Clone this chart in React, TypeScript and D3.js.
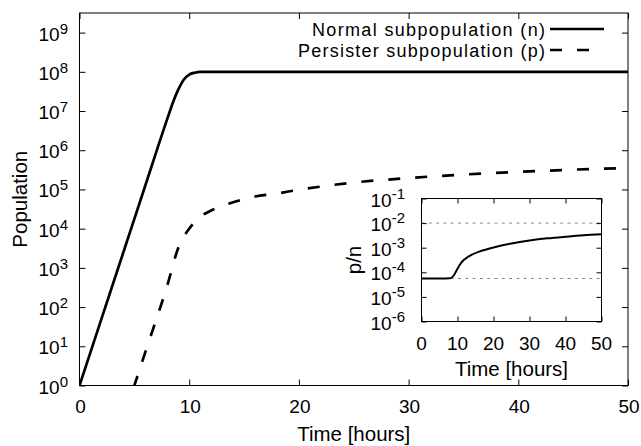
import React, { useEffect, useRef } from 'react';
import * as d3 from 'd3';

// time [hours] and population
const normalTime = [0, 2, 4, 6, 8, 8.5, 9, 9.5, 10, 10.5, 11, 12, 20, 30, 40, 50];
const normalPop = [1, 50, 2.5e3, 1.26e5, 6.3e6, 1.6e7, 3.5e7, 6.3e7, 8.5e7, 9.5e7, 1e8, 1e8, 1e8, 1e8, 1e8, 1e8];

const persisterTime = [0, 2, 4, 6, 8, 9, 10, 11, 12, 14, 16, 18, 20, 25, 30, 35, 40, 45, 50];
const persisterPop = [5.6e-5, 2.8e-3, 0.14, 7.1, 355, 3.2e3, 1.0e4, 2.0e4, 2.9e4, 4.7e4, 6.6e4, 7.9e4, 9.8e4, 1.5e5, 1.95e5, 2.4e5, 2.8e5, 3.2e5, 3.5e5];

// inset: ratio p/n
const ratioTime = [0, 5, 8, 9, 10, 11, 12, 14, 16, 18, 20, 25, 30, 35, 40, 45, 50];
const ratioValue = [5.6e-5, 5.6e-5, 5.7e-5, 7.6e-5, 1.4e-4, 2.4e-4, 3.4e-4, 5.2e-4, 6.9e-4, 8.5e-4, 1.02e-3, 1.48e-3, 1.95e-3, 2.4e-3, 2.8e-3, 3.2e-3, 3.5e-3];
const ratioRefLines = [1e-2, 5.6e-5];

const xTicks = [0, 10, 20, 30, 40, 50];
const mainExponents = [0, 1, 2, 3, 4, 5, 6, 7, 8, 9];
const insetExponents = [-6, -5, -4, -3, -2, -1];

const legendLabels = ['Normal subpopulation (n)', 'Persister subpopulation (p)'];
const legendWidths = [233, 247];

const FONT = '"Liberation Sans", Arial, Helvetica, sans-serif';
const DASH = '12,15';

const App = () => {
  const ref = useRef<SVGSVGElement>(null);

  useEffect(() => {
    const svg = d3.select(ref.current);
    svg.selectAll('*').remove();

    const m = { left: 79.5, right: 628, top: 13, bottom: 385.5 };
    const ins = { left: 421.5, right: 601.5, top: 198.5, bottom: 321.5 };

    const x = d3.scaleLinear().domain([0, 50]).range([m.left, m.right]);
    const y = d3.scaleLog().domain([1, Math.pow(10, 9.5)]).range([m.bottom, m.top]);
    const x2 = d3.scaleLinear().domain([0, 50]).range([ins.left, ins.right]);
    const y2 = d3.scaleLog().domain([1e-6, 1e-1]).range([ins.bottom, ins.top]);

    svg.append('rect').attr('width', 641).attr('height', 446).attr('fill', 'white');

    svg.append('defs').append('clipPath').attr('id', 'mainclip')
      .append('rect')
      .attr('x', m.left).attr('y', m.top)
      .attr('width', m.right - m.left).attr('height', m.bottom - m.top);

    const mainVals = mainExponents.map((e) => Math.pow(10, e));

    // ticks (inward, mirrored)
    const tickAxis = (g: any, axis: any) => {
      g.call(axis);
      g.select('.domain').remove();
      g.selectAll('.tick line').attr('stroke', '#000').attr('stroke-width', 1);
    };
    svg.append('g').attr('transform', `translate(0,${m.bottom})`)
      .call((g) => tickAxis(g, d3.axisBottom(x).tickValues(xTicks).tickSize(-6).tickFormat(() => '')));
    svg.append('g').attr('transform', `translate(0,${m.top})`)
      .call((g) => tickAxis(g, d3.axisTop(x).tickValues(xTicks).tickSize(-6).tickFormat(() => '')));
    svg.append('g').attr('transform', `translate(${m.left},0)`)
      .call((g) => tickAxis(g, d3.axisLeft(y).tickValues(mainVals).tickSize(-6).tickFormat(() => '')));
    svg.append('g').attr('transform', `translate(${m.right},0)`)
      .call((g) => tickAxis(g, d3.axisRight(y).tickValues(mainVals).tickSize(-6).tickFormat(() => '')));

    svg.append('rect')
      .attr('x', m.left).attr('y', m.top)
      .attr('width', m.right - m.left).attr('height', m.bottom - m.top)
      .attr('fill', 'none').attr('stroke', '#000').attr('stroke-width', 1);

    // tick labels
    svg.append('g').selectAll('text').data(xTicks).join('text')
      .attr('x', (d) => x(d) + 1).attr('y', 413)
      .attr('text-anchor', 'middle')
      .style('font-family', FONT).style('font-size', '19px')
      .text((d) => d);

    const yLab = svg.append('g').selectAll('text').data(mainExponents).join('text')
      .attr('x', 68).attr('y', (d) => y(Math.pow(10, d)) + 8)
      .attr('text-anchor', 'end')
      .style('font-family', FONT).style('font-size', '19px');
    yLab.append('tspan').text('10');
    yLab.append('tspan').attr('dy', -7).style('font-size', '15px').text((d) => d);

    svg.append('text')
      .attr('x', (m.left + m.right) / 2).attr('y', 441)
      .attr('text-anchor', 'middle')
      .style('font-family', FONT).style('font-size', '20.5px')
      .text('Time [hours]');

    svg.append('text')
      .attr('transform', `translate(27,${(m.top + m.bottom) / 2}) rotate(-90)`)
      .attr('text-anchor', 'middle')
      .style('font-family', FONT).style('font-size', '20.5px')
      .text('Population');

    // curves
    const line = d3.line<[number, number]>()
      .x((d) => x(d[0]))
      .y((d) => y(d[1]))
      .curve(d3.curveMonotoneX);

    const plot = svg.append('g').attr('clip-path', 'url(#mainclip)');
    plot.append('path')
      .datum(normalTime.map((t, i) => [t, normalPop[i]] as [number, number]))
      .attr('d', line)
      .attr('fill', 'none').attr('stroke', '#000').attr('stroke-width', 2.7);
    const pPath = plot.append('path')
      .datum(persisterTime.map((t, i) => [t, persisterPop[i]] as [number, number]))
      .attr('d', line)
      .attr('fill', 'none').attr('stroke', '#000').attr('stroke-width', 2.7)
      .attr('stroke-dasharray', DASH);

    // start a dash where the dashed curve enters the frame
    const node = pPath.node() as SVGPathElement;
    if (node && node.getTotalLength) {
      let lo = 0;
      let hi = node.getTotalLength();
      for (let k = 0; k < 30; k++) {
        const mid = (lo + hi) / 2;
        if (node.getPointAtLength(mid).y > m.bottom) lo = mid; else hi = mid;
      }
      pPath.attr('stroke-dashoffset', -lo + 2);
    }

    // legend
    const legend = svg.append('g');
    legendLabels.forEach((lab, i) => {
      const yy = 29 + i * 21;
      legend.append('text')
        .attr('x', 545).attr('y', yy + 6.5)
        .attr('text-anchor', 'end')
        .attr('textLength', legendWidths[i])
        .attr('lengthAdjust', 'spacing')
        .style('font-family', FONT).style('font-size', '18px')
        .text(lab);
      legend.append('line')
        .attr('x1', 550).attr('x2', 604).attr('y1', yy).attr('y2', yy)
        .attr('stroke', '#000').attr('stroke-width', 2.7)
        .attr('stroke-dasharray', i === 0 ? null : DASH);
    });

    // inset
    const inset = svg.append('g');
    inset.append('rect')
      .attr('x', ins.left).attr('y', ins.top)
      .attr('width', ins.right - ins.left).attr('height', ins.bottom - ins.top)
      .attr('fill', 'white');

    inset.selectAll('line.ref').data(ratioRefLines).join('line')
      .attr('class', 'ref')
      .attr('x1', ins.left).attr('x2', ins.right)
      .attr('y1', (d) => y2(d)).attr('y2', (d) => y2(d))
      .attr('stroke', '#888').attr('stroke-width', 1)
      .attr('stroke-dasharray', '3,4.3');

    const insetVals = insetExponents.map((e) => Math.pow(10, e));
    inset.append('g').attr('transform', `translate(0,${ins.bottom})`)
      .call((g) => tickAxis(g, d3.axisBottom(x2).tickValues(xTicks).tickSize(-5).tickFormat(() => '')));
    inset.append('g').attr('transform', `translate(0,${ins.top})`)
      .call((g) => tickAxis(g, d3.axisTop(x2).tickValues(xTicks).tickSize(-5).tickFormat(() => '')));
    inset.append('g').attr('transform', `translate(${ins.left},0)`)
      .call((g) => tickAxis(g, d3.axisLeft(y2).tickValues(insetVals).tickSize(-5).tickFormat(() => '')));
    inset.append('g').attr('transform', `translate(${ins.right},0)`)
      .call((g) => tickAxis(g, d3.axisRight(y2).tickValues(insetVals).tickSize(-5).tickFormat(() => '')));

    const line2 = d3.line<[number, number]>()
      .x((d) => x2(d[0]))
      .y((d) => y2(d[1]))
      .curve(d3.curveMonotoneX);
    inset.append('path')
      .datum(ratioTime.map((t, i) => [t, ratioValue[i]] as [number, number]))
      .attr('d', line2)
      .attr('fill', 'none').attr('stroke', '#000').attr('stroke-width', 2);

    inset.append('rect')
      .attr('x', ins.left).attr('y', ins.top)
      .attr('width', ins.right - ins.left).attr('height', ins.bottom - ins.top)
      .attr('fill', 'none').attr('stroke', '#000').attr('stroke-width', 1);

    inset.append('g').selectAll('text').data(xTicks).join('text')
      .attr('x', (d) => x2(d)).attr('y', 350)
      .attr('text-anchor', 'middle')
      .style('font-family', FONT).style('font-size', '19px')
      .text((d) => d);

    const iLab = inset.append('g').selectAll('text').data(insetExponents).join('text')
      .attr('x', 405).attr('y', (d) => y2(Math.pow(10, d)) + 8)
      .attr('text-anchor', 'end')
      .style('font-family', FONT).style('font-size', '19px');
    iLab.append('tspan').text('10');
    iLab.append('tspan').attr('dy', -8).style('font-size', '15px').text((d) => d);

    inset.append('text')
      .attr('x', (ins.left + ins.right) / 2).attr('y', 376)
      .attr('text-anchor', 'middle')
      .style('font-family', FONT).style('font-size', '20.5px')
      .text('Time [hours]');

    inset.append('text')
      .attr('transform', `translate(361,${(ins.top + ins.bottom) / 2}) rotate(-90)`)
      .attr('text-anchor', 'middle')
      .style('font-family', FONT).style('font-size', '20.5px')
      .text('p/n');
  }, []);

  return (
    <div>
      <svg ref={ref} width={641} height={446} style={{ position: 'absolute', left: 0, top: 0 }} />
    </div>
  );
};

export default App;
